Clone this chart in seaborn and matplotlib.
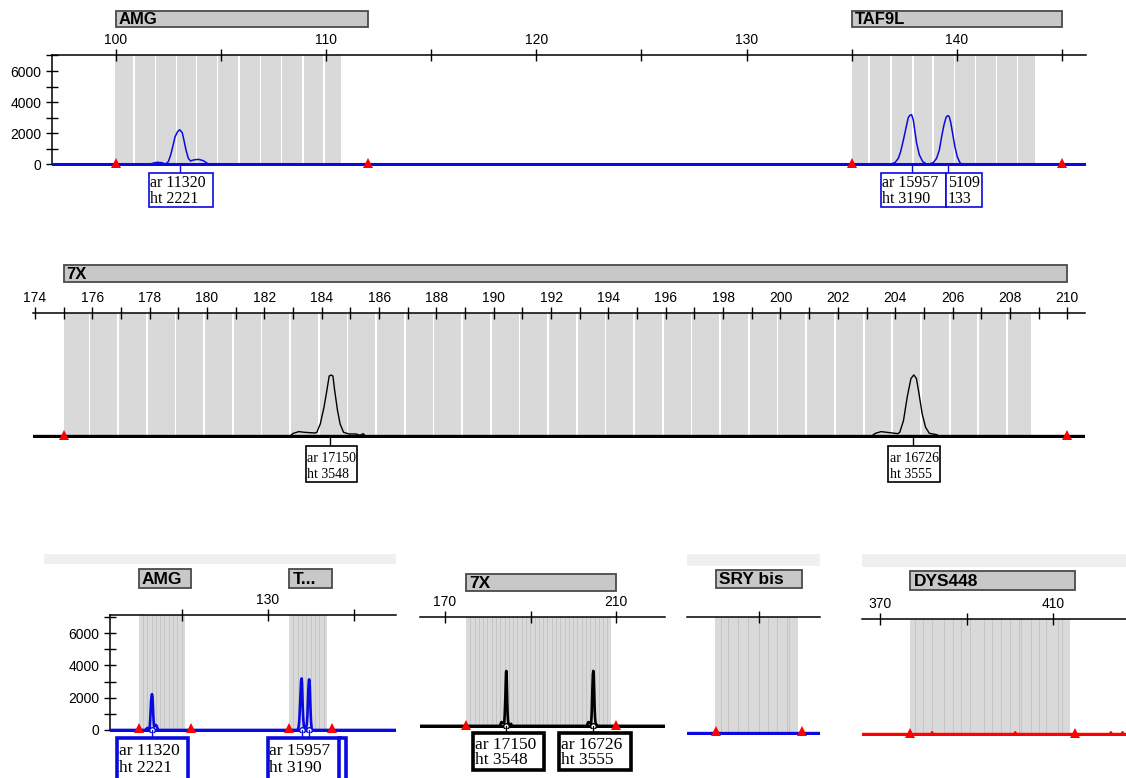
import matplotlib
matplotlib.use('Agg')
import matplotlib.pyplot as plt
import matplotlib.transforms as mtransforms
from matplotlib.patches import Rectangle
from matplotlib.ticker import MultipleLocator, FuncFormatter
import seaborn as sns

# ---- traces (size in bp, height in RFU) ----
# blue dye: AMG and TAF9L
blue_size = [90.0, 101.6, 101.74, 101.93, 102.17, 102.36, 102.49, 102.6, 102.7, 102.81, 102.93,
             103.03, 103.15, 103.23, 103.33, 103.44, 103.55, 103.68, 103.92, 104.15, 104.39, 104.5,
             136.8, 137.06, 137.22, 137.33, 137.46, 137.58, 137.69, 137.77, 137.85, 137.93, 138.01,
             138.09, 138.22, 138.38, 138.53, 138.69, 138.88, 139.04, 139.17, 139.28, 139.39, 139.49,
             139.57, 139.64, 139.72, 139.8, 139.91, 140.02, 140.15, 140.25, 160.0]
blue_height = [0, 0, 64, 129, 107, 21, 171, 600, 1136, 1780, 2100,
               2221, 2040, 1565, 920, 386, 214, 279, 320, 236, 21, 0,
               0, 107, 386, 815, 1565, 2315, 3000, 3150, 3190, 2851, 2101,
               1351, 600, 171, 40, 20, 107, 386, 922, 1780, 2530, 3023,
               3133, 3066, 2637, 1994, 1136, 493, 107, 0, 0]
# black dye: 7X
black_size = [160.0, 182.89, 183.01, 183.2, 183.39, 183.76, 183.83, 183.95, 184.08, 184.18, 184.26,
              184.33, 184.39, 184.45, 184.55, 184.64, 184.76, 184.95, 185.2, 185.33, 185.45, 185.51,
              203.18, 203.31, 203.51, 203.7, 204.09, 204.16, 204.29, 204.42, 204.55, 204.65, 204.74,
              204.83, 204.94, 205.06, 205.19, 205.45, 205.52, 225.0]
black_height = [0, 0, 157, 255, 216, 176, 216, 706, 1686, 2666, 3490,
                3548, 3490, 2666, 1490, 706, 216, 118, 118, 40, 137, 0,
                0, 157, 255, 216, 137, 216, 900, 2275, 3350, 3555, 3350,
                2470, 1295, 510, 157, 78, 0, 0]
# SRY bis (blue) is flat, DYS448 (red) only has tiny spikes
sry_size = [270.0, 308.0]
sry_height = [0, 0]
red_size = [360.0, 381.7, 382.0, 382.3, 400.9, 401.2, 401.5, 423.0, 423.3, 423.6, 425.7, 426.0, 426.3, 430.0]
red_height = [0, 0, 120, 0, 0, 120, 0, 0, 120, 0, 0, 120, 0, 0]

# ---- bin edges (bp) ----
amg_bins = [99.95, 100.88, 101.92, 102.92, 103.87, 104.87, 105.88, 106.92, 107.92, 108.92, 109.92, 110.8]
taf9l_bins = [135.0, 135.88, 136.9, 137.95, 138.9, 139.93, 140.93, 141.93, 142.93, 143.8]
x7_bins = [175.0, 175.93, 176.93, 177.93, 178.93, 179.93, 180.93, 181.93, 182.93, 183.93, 184.93,
           185.93, 186.93, 187.93, 188.93, 189.93, 190.93, 191.93, 192.93, 193.93, 194.93, 195.93,
           196.93, 197.93, 198.93, 199.93, 200.93, 201.93, 202.93, 203.93, 204.93, 205.93, 206.93,
           207.93, 208.8]
sry_bins = [279.8, 281.3, 282.9, 285.2, 287.5, 290.0, 292.2, 294.1, 296.5, 297.1, 299.1]
dys448_bins = [376.9, 378.1, 379.9, 382.0, 384.8, 386.8, 388.7, 390.8, 394.0, 395.9, 397.9, 399.9,
               402.1, 402.6, 404.9, 406.8, 408.3, 411.2, 412.0, 413.9]

# ---- markers ----
marker_names = ['AMG', 'TAF9L', '7X', 'SRY bis', 'DYS448']
marker_start = [100, 135, 175, 280, 377]
marker_end = [112, 145, 210, 300, 415]

# ---- called peaks ----
peak_size = [103.03, 137.85, 139.6, 184.28, 204.63]
peak_area = ['11320', '15957', '5109', '17150', '16726']
peak_height = ['2221', '3190', '133', '3548', '3555']

W, H = 1126, 778
BLUE, BLACK, RED = '#0a0ae0', '#000000', '#ff0000'
GRAY_BIN = '#d9d9d9'

sns.set_style('white')
plt.rcParams['font.family'] = ['Liberation Sans', 'DejaVu Sans']
SANS = ['Liberation Sans', 'DejaVu Sans']
NARROW = ['Liberation Sans Narrow', 'Liberation Sans', 'DejaVu Sans']
SERIF = ['Liberation Serif', 'DejaVu Serif']

fig = plt.figure(figsize=(W / 100, H / 100), dpi=100)


def fy(ypx):
    return 1 - ypx / H


def add_panel(x0, y0, x1, y1, xlim, ylim):
    ax = fig.add_axes([x0 / W, fy(y1), (x1 - x0) / W, (y1 - y0) / H])
    ax.set_xlim(*xlim)
    ax.set_ylim(*ylim)
    ax.set_facecolor('none')
    for s in ['right', 'bottom', 'left']:
        ax.spines[s].set_visible(False)
    ax.spines['top'].set_color('black')
    ax.spines['top'].set_linewidth(1.1)
    ax.xaxis.tick_top()
    ax.set_yticks([])
    ax.ppu = (x1 - x0) / (xlim[1] - xlim[0])
    ax.base = y1 - (0 - ylim[0]) / (ylim[1] - ylim[0]) * (y1 - y0)
    return ax


def x_ticks(ax, step, keep, size, family, pad, offset=0):
    ax.xaxis.set_major_locator(MultipleLocator(step, offset=offset))
    ax.xaxis.set_major_formatter(FuncFormatter(lambda v, p: '%d' % round(v) if keep(round(v)) else ''))
    ax.tick_params(axis='x', which='major', direction='inout', length=8, width=1, color='black',
                   top=True, bottom=False, labeltop=True, labelbottom=False, labelsize=size,
                   labelcolor='black', pad=pad, labelfontfamily=family)
    ax.set_xlabel('')


def y_axis(ax):
    ax.spines['left'].set_visible(True)
    ax.spines['left'].set_color('black')
    ax.spines['left'].set_linewidth(1.1)
    ax.spines['left'].set_bounds(0, ax.get_ylim()[1])
    ax.yaxis.set_major_locator(MultipleLocator(2000))
    ax.yaxis.set_minor_locator(MultipleLocator(1000))
    ax.set_ylim(*ax.get_ylim())
    ax.tick_params(axis='y', which='both', direction='inout', length=8, width=1, color='black',
                   left=True, labelsize=10, labelcolor='black', pad=3.4)
    ax.set_ylabel('')


def bins(ax, edges, small):
    frac0 = (0 - ax.get_ylim()[0]) / (ax.get_ylim()[1] - ax.get_ylim()[0])
    if small:
        ax.axvspan(edges[0], edges[-1], ymin=frac0, ymax=1, color=GRAY_BIN, lw=0, zorder=0)
        for e in edges[1:-1]:
            ax.axvline(e, ymin=frac0, ymax=1, color='#c4c4c4', lw=0.7, zorder=0.5)
    else:
        gap = 1.7 / ax.ppu
        for a, b in zip(edges[:-1], edges[1:]):
            ax.axvspan(a, b - gap, ymin=frac0, ymax=1, color=GRAY_BIN, lw=0, zorder=0)


def trace(ax, xs, ys, color, lw, base_lw):
    ax.axhline(0, color=color, lw=base_lw, zorder=3)
    sns.lineplot(x=xs, y=ys, ax=ax, color=color, lw=lw, estimator=None, sort=False,
                 legend=False, zorder=4)
    ax.set_xlabel('')
    ax.set_ylabel('')


def range_marks(ax, idx, ms=6.5):
    tr = mtransforms.offset_copy(ax.transData, fig, y=1.5, units='dots')
    xs = [marker_start[i] for i in idx] + [marker_end[i] for i in idx]
    ax.plot(xs, [0] * len(xs), '^', color=RED, ms=ms, mew=0, transform=tr, clip_on=False, zorder=6)


def title_bar(ax, i, y0, y1, size, family, short=False):
    tr = mtransforms.blended_transform_factory(ax.transData, fig.transFigure)
    a, b = marker_start[i], marker_end[i]
    ax.add_patch(Rectangle((a, fy(y1)), b - a, fy(y0) - fy(y1), transform=tr, facecolor='#c8c8c8',
                           edgecolor='#4a4a4a', lw=1.3, clip_on=False, zorder=5))
    name = marker_names[i]
    if short and (b - a) * ax.ppu < 11 * len(name):
        name = name[0] + '...'
    ax.text(a + 3 / ax.ppu, fy((y0 + y1) / 2 + 0.5), name, transform=tr, ha='left', va='center',
            fontsize=size, fontweight='bold', family=family, color='black', zorder=6, clip_on=False)


def peak_box(ax, k, dx, w, y0, y1, line_ys, color, lw, size, family, text=True):
    tr = mtransforms.blended_transform_factory(ax.transData, fig.transFigure)
    x = peak_size[k]
    left = x + dx / ax.ppu
    ax.plot([x, x], [fy(ax.base), fy(y0)], color=color, lw=1, transform=tr, clip_on=False, zorder=5)
    ax.add_patch(Rectangle((left, fy(y1)), w / ax.ppu, fy(y0) - fy(y1), transform=tr,
                           facecolor='white', edgecolor=color, lw=lw, clip_on=False, zorder=6))
    if text:
        pre = ('ar ', 'ht ') if dx < -5 else ('', '')
        for s, yy in zip([pre[0] + peak_area[k], pre[1] + peak_height[k]], line_ys):
            ax.text(left + 1.5 / ax.ppu, fy(yy), s, transform=tr, ha='left', va='center',
                    fontsize=size, family=family, color='black', zorder=7, clip_on=False)


def strip(x0, y0, x1, y1):
    fig.add_artist(Rectangle((x0 / W, fy(y1)), (x1 - x0) / W, (y1 - y0) / H,
                             transform=fig.transFigure, color='#efefef', lw=0, zorder=0))


def small_labels(v):
    return (v - 10) % 40 == 0


# ---------------- panel 1: AMG / TAF9L ----------------
ax1 = add_panel(52, 55, 1086, 166, (96.955, 146.147), (-109, 7029))
bins(ax1, amg_bins, False)
bins(ax1, taf9l_bins, False)
trace(ax1, blue_size, blue_height, BLUE, 1.1, 2.2)
x_ticks(ax1, 5, lambda v: v % 10 == 0, 10, SANS, 2)
y_axis(ax1)
range_marks(ax1, [0, 1])
title_bar(ax1, 0, 11, 27, 12, SANS)
title_bar(ax1, 1, 11, 27, 12, SANS)
peak_box(ax1, 0, -31, 64, 173, 207, [183, 199], BLUE, 1.2, 11.5, SERIF)
peak_box(ax1, 1, -31, 65, 173, 207, [183, 199], BLUE, 1.2, 11.5, SERIF)
peak_box(ax1, 2, -2.3, 36, 173, 207, [183, 199], BLUE, 1.2, 11.5, SERIF)

# ---------------- panel 2: 7X ----------------
ax2 = add_panel(33, 313, 1085, 438, (173.93, 210.62), (-116, 7159))
bins(ax2, x7_bins, False)
trace(ax2, black_size, black_height, BLACK, 1.0, 2.4)
x_ticks(ax2, 1, lambda v: v % 2 == 0, 10, NARROW, 1.5)
range_marks(ax2, [2])
title_bar(ax2, 2, 265, 282, 12, NARROW)
peak_box(ax2, 3, -24, 51, 446, 482, [458, 475], BLACK, 1.2, 10, SERIF)
peak_box(ax2, 4, -25, 52, 446, 482, [458, 475], BLACK, 1.2, 10, SERIF)

# ---------------- bottom row: overview panels ----------------
strip(44, 554, 396, 564)
strip(687, 554, 820, 566)
strip(862, 554, 1126, 567)

ax3 = add_panel(110, 615, 396, 732, (93.26, 159.77), (-124, 7121))
bins(ax3, amg_bins, True)
bins(ax3, taf9l_bins, True)
trace(ax3, blue_size, blue_height, BLUE, 1.9, 2.2)
x_ticks(ax3, 20, small_labels, 10, SANS, 2, offset=10)
y_axis(ax3)
range_marks(ax3, [0, 1], 7)
title_bar(ax3, 0, 569, 588, 12.5, SANS, short=True)
title_bar(ax3, 1, 569, 588, 12.5, SANS, short=True)
ax3.plot(peak_size[:3], [0] * 3, 'o', ms=4, mfc='white', mec=BLUE, mew=1, zorder=5)
peak_box(ax3, 0, -35, 71, 738, 800, [751, 768], BLUE, 2.6, 12.5, SERIF)
peak_box(ax3, 1, -34, 72, 738, 800, [751, 768], BLUE, 2.6, 12.5, SERIF)
peak_box(ax3, 2, 30, 7, 738, 800, [751, 768], BLUE, 2.6, 12.5, SERIF, text=False)

ax4 = add_panel(420, 617, 665, 728, (164.16, 221.4), (-129, 7031))
bins(ax4, x7_bins, True)
trace(ax4, black_size, black_height, BLACK, 1.9, 2.4)
x_ticks(ax4, 20, small_labels, 10, SANS, 2, offset=10)
range_marks(ax4, [2], 7)
title_bar(ax4, 2, 574, 591, 12.5, SANS, short=True)
ax4.plot(peak_size[3:], [0] * 2, 'o', ms=4, mfc='white', mec=BLACK, mew=1, zorder=5)
peak_box(ax4, 3, -33, 71, 733, 770, [745, 760], BLACK, 2.6, 12.5, SERIF)
peak_box(ax4, 4, -34, 72, 733, 770, [745, 760], BLACK, 2.6, 12.5, SERIF)

ax5 = add_panel(687, 617, 820, 735, (273.3, 304.2), (-124, 7190))
bins(ax5, sry_bins, True)
trace(ax5, sry_size, sry_height, BLUE, 1.9, 2.4)
x_ticks(ax5, 20, lambda v: False, 10, SANS, 2, offset=10)
range_marks(ax5, [3], 7)
title_bar(ax5, 3, 570, 588, 12.5, SANS, short=True)

ax6 = add_panel(862, 619, 1126, 736, (365.8, 426.8), (-124, 7130))
bins(ax6, dys448_bins, True)
trace(ax6, red_size, red_height, RED, 1.5, 2.4)
x_ticks(ax6, 20, small_labels, 10, SANS, 2, offset=10)
range_marks(ax6, [4], 7)
title_bar(ax6, 4, 571, 590, 12.5, SANS, short=True)

fig.savefig('out.png', dpi=100)
